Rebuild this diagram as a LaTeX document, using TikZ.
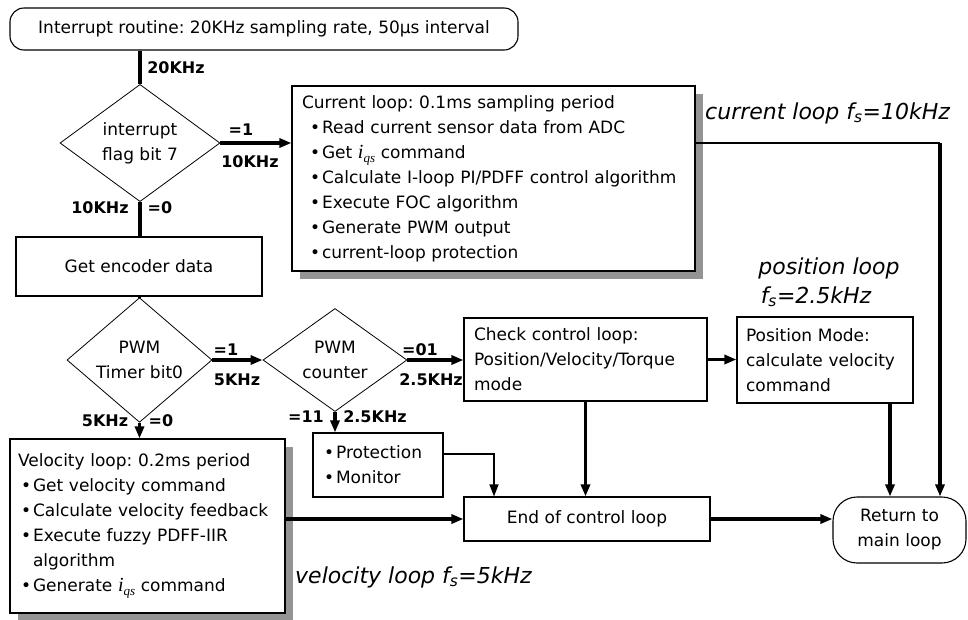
\documentclass[tikz,border=0pt]{standalone}
\usepackage{fontspec}
\setmainfont{DejaVu Sans}
\newfontfamily\iqsfont{Liberation Serif}
\usetikzlibrary{shapes.geometric,arrows.meta,shadows}
\frenchspacing
\newcommand{\bodyfont}{\fontsize{17}{25}\selectfont}
\newcommand{\lblfont}{\fontsize{16}{18}\selectfont\bfseries}
\newcommand{\loopfont}{\fontsize{22}{26}\selectfont\itshape}
\newcommand{\bul}{\textbullet\hspace{2pt}}
\newcommand{\iqs}{{\iqsfont\itshape\fontsize{20}{25}\selectfont i\raisebox{-4pt}{\fontsize{13}{14}\selectfont qs}}}
\begin{document}
\begin{tikzpicture}[x=1pt,y=-1pt,
  box/.style={draw, line width=1.1pt, fill=white, inner sep=0pt, font=\bodyfont},
  txtbox/.style={box, align=left, inner xsep=10pt},
  shbox/.style={txtbox, drop shadow={shadow xshift=8pt,shadow yshift=-8pt,fill=black!42,opacity=1}},
  diam/.style={diamond, draw, line width=0.8pt, inner sep=0pt, align=center, font=\bodyfont},
  rbox/.style={box, rounded corners=14pt, align=center},
  flow/.style={line width=3.3pt},
  thinflow/.style={line width=1.3pt},
  tip/.style={-{Triangle[length=12pt,width=9pt]}},
  lbl/.style={font=\lblfont, inner sep=0pt},
  loop/.style={font=\loopfont, inner sep=0pt}
]
\useasboundingbox (0,0) rectangle (968,619);

% nodes
\node[rbox, minimum width=508pt, minimum height=42pt] (top) at (264,29)
  {Interrupt routine: 20KHz sampling rate, 50\textmu s interval};
\node[diam, minimum width=160pt, minimum height=100pt] (d1) at (140,143)
  {interrupt\\flag bit 7};
\node[shbox, text width=383pt, minimum height=185pt] (cur) at (493.5,178.5)
  {Current loop: 0.1ms sampling period\\
   \hspace{8pt}\bul Read current sensor data from ADC\\
   \hspace{8pt}\bul Get \iqs{} command\\
   \hspace{8pt}\bul Calculate I-loop PI/PDFF control algorithm\\
   \hspace{8pt}\bul Execute FOC algorithm\\
   \hspace{8pt}\bul Generate PWM output\\
   \hspace{8pt}\bul current-loop protection};
\node[box, minimum width=246pt, minimum height=59pt] (enc) at (139,266.5)
  {Get encoder data};
\node[diam, minimum width=145pt, minimum height=86pt] (d2) at (139.5,360)
  {PWM\\Timer bit0};
\node[diam, minimum width=144pt, minimum height=86pt] (d3) at (335,360)
  {PWM\\counter};
\node[txtbox, text width=223pt, minimum height=83pt] (chk) at (585.5,359.5)
  {Check control loop:\\Position/Velocity/Torque\\mode};
\node[txtbox, text width=158pt, inner xsep=9pt, minimum height=86pt] (pos) at (825,360)
  {Position Mode:\\calculate velocity\\command};
\node[txtbox, text width=110pt, minimum height=64pt] (prot) at (378,465)
  {\hspace{1pt}\bul Protection\\\hspace{1pt}\bul Monitor};
\node[shbox, text width=259pt, inner xsep=8pt, minimum height=174pt] (vel) at (147.5,526)
  {Velocity loop: 0.2ms period\\
   \hspace{3pt}\bul Get velocity command\\
   \hspace{3pt}\bul Calculate velocity feedback\\
   \hspace{3pt}\bul Execute fuzzy PDFF-IIR\\
   \hspace{3pt}\phantom{\bul}algorithm\\
   \hspace{3pt}\bul Generate \iqs{} command};
\node[box, minimum width=246pt, minimum height=44pt] (endc) at (587,519)
  {End of control loop};
\node[rbox, rounded corners=24pt, minimum width=133pt, minimum height=66pt] (ret) at (899.5,530)
  {Return to\\main loop};

% loop annotations
\node[loop, anchor=west] (lc) at (705,113) {current loop f\textsubscript{s}=10kHz};
\node[loop] (lp1) at (829,268) {position loop};
\node[loop] (lp2) at (816,297) {f\textsubscript{s}=2.5kHz};
\node[loop, anchor=west] (lv) at (295,577) {velocity loop f\textsubscript{s}=5kHz};

% coordinates
\coordinate (c1) at (940,143);
\coordinate (c2) at (494,454);
\coordinate (c3) at (890,403);

% connectors
\draw[flow] (d1.north |- top.south) -- (d1.north);
\draw[flow, tip] (d1.east) -- (cur.west |- d1.east);
\draw[line width=2pt] (cur.east |- d1.east) -- (c1);
\draw[flow, tip] (c1) -- (c1 |- ret.north);
\draw[flow] (d1.south) -- (enc.north -| d1.south);
\draw[flow] (enc.south -| d2.north) -- (d2.north);
\draw[flow, tip] (d2.east) -- (d3.west);
\draw[flow, tip] (d3.east) -- (chk.west |- d3.east);
\draw[flow, tip] (chk.east) -- (pos.west |- chk.east);
\draw[flow, tip] (d2.south) -- (d2.south |- vel.north);
\draw[flow, tip] (d3.south) -- (d3.south |- prot.north);
\draw[thinflow, tip] (prot.east |- c2) -- (c2) -- (c2 |- endc.north);
\draw[flow, tip] (chk.south) -- (chk.south |- endc.north);
\draw[flow, tip] (c3) -- (c3 |- ret.north);
\draw[flow, tip] (vel.east |- endc.west) -- (endc.west);
\draw[flow, tip] (endc.east) -- (ret.west |- endc.east);

% branch labels
\node[lbl] (l20) at (176,68) {20KHz};
\node[lbl] (l1a) at (241,130) {=1};
\node[lbl] (l10a) at (250,162) {10KHz};
\node[lbl] (l10b) at (100,208) {10KHz};
\node[lbl] (l0a) at (160,208) {=0};
\node[lbl] (l1b) at (226,350) {=1};
\node[lbl] (l5a) at (237,380) {5KHz};
\node[lbl] (l01) at (420,350) {=01};
\node[lbl] (l25a) at (431,380) {2.5KHz};
\node[lbl] (l5b) at (105,421) {5KHz};
\node[lbl] (l0b) at (161,421) {=0};
\node[lbl] (l11) at (306,417) {=11};
\node[lbl] (l25b) at (375,417) {2.5KHz};
\end{tikzpicture}
\end{document}
